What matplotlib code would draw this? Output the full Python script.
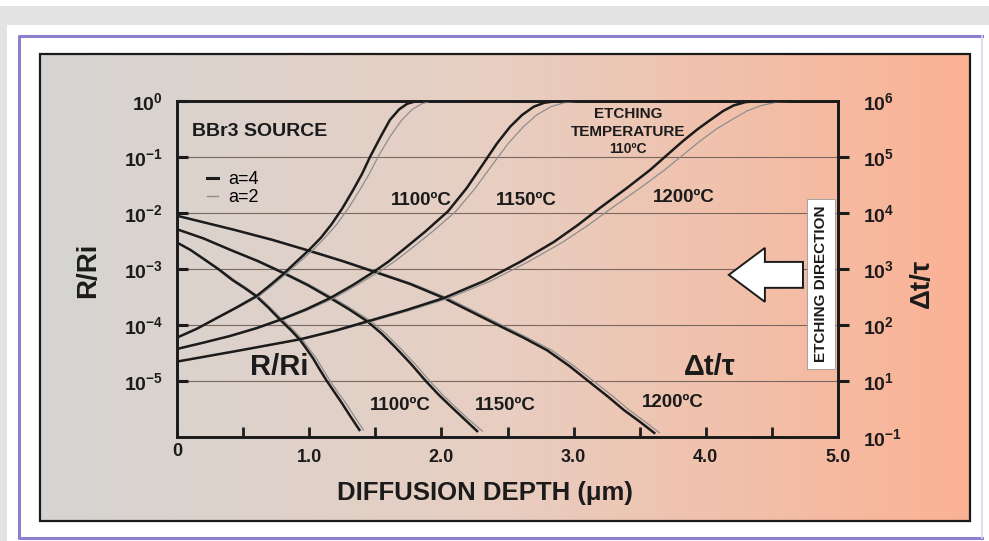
import matplotlib.pyplot as plt
import numpy as np
from matplotlib.colors import LinearSegmentedColormap
from matplotlib.patches import Rectangle, Polygon
from matplotlib.lines import Line2D

plt.rcParams['font.family'] = ['Liberation Sans', 'DejaVu Sans']
plt.rcParams['mathtext.default'] = 'regular'

# --- etching time ratio (right axis), a=4 black / a=2 gray ---
depth_dt_1100 = [0.0, 0.15, 0.30, 0.45, 0.60, 0.70, 0.81, 0.90, 1.00, 1.09, 1.17,
                 1.25, 1.33, 1.40, 1.46, 1.54, 1.61, 1.68, 1.74, 1.80, 1.86, 5.0]
depth_dt_1100_a2 = [0.0, 0.155, 0.31, 0.465, 0.62, 0.72, 0.83, 0.925, 1.03, 1.12, 1.21,
                    1.295, 1.38, 1.455, 1.52, 1.61, 1.70, 1.78, 1.85, 1.91, 1.97, 5.0]
dt_1100 = [59, 85, 132, 204, 324, 501, 832, 1320, 2190, 3630, 6310,
           1.2e4, 2.51e4, 5.0e4, 1.0e5, 2.29e5, 4.57e5, 7.08e5, 8.9e5, 9.8e5, 1.0e6, 1.0e6]

depth_dt_1150 = [0.0, 0.20, 0.40, 0.60, 0.78, 0.97, 1.16, 1.33, 1.49, 1.60, 1.71,
                 1.88, 2.05, 2.19, 2.32, 2.42, 2.52, 2.61, 2.70, 2.78, 2.88, 5.0]
depth_dt_1150_a2 = [0.0, 0.205, 0.41, 0.615, 0.80, 0.995, 1.19, 1.36, 1.53, 1.645, 1.76,
                    1.935, 2.11, 2.255, 2.395, 2.505, 2.62, 2.72, 2.83, 2.93, 3.06, 5.0]
dt_1150 = [37, 48, 63, 87, 123, 186, 302, 513, 891, 1350, 2190,
           4680, 1.07e4, 2.75e4, 7.76e4, 1.74e5, 3.47e5, 5.62e5, 7.94e5, 9.33e5, 1.0e6, 1.0e6]

depth_dt_1200 = [0.0, 0.45, 0.93, 1.20, 1.44, 1.73, 2.02, 2.32, 2.60, 2.85, 3.03, 3.20,
                 3.40, 3.58, 3.71, 3.83, 3.94, 4.04, 4.13, 4.21, 4.30, 4.40, 5.0]
depth_dt_1200_a2 = [0.0, 0.46, 0.95, 1.225, 1.47, 1.765, 2.06, 2.37, 2.66, 2.92, 3.11, 3.29,
                    3.50, 3.69, 3.83, 3.96, 4.08, 4.20, 4.31, 4.42, 4.54, 4.70, 5.0]
dt_1200 = [22, 34, 55, 79, 115, 182, 302, 603, 1350, 3020, 6030, 1.23e4,
           2.75e4, 5.89e4, 1.1e5, 1.95e5, 3.16e5, 4.68e5, 6.61e5, 8.32e5, 9.55e5, 1.0e6, 1.0e6]

# --- sheet resistance ratio R/Ri (left axis) ---
depth_r_1100 = [0.0, 0.10, 0.20, 0.31, 0.42, 0.51, 0.60, 0.69, 0.78, 0.86, 0.93,
                0.98, 1.03, 1.08, 1.13, 1.19, 1.25, 1.31, 1.38]
depth_r_1100_a2 = [0.0, 0.105, 0.21, 0.32, 0.435, 0.525, 0.615, 0.705, 0.80, 0.88, 0.95,
                   1.00, 1.055, 1.105, 1.155, 1.215, 1.28, 1.34, 1.41]
r_1100 = [2.95e-3, 2.19e-3, 1.51e-3, 1.0e-3, 6.3e-4, 4.57e-4, 3.24e-4, 2.04e-4, 1.23e-4,
          8.1e-5, 5.4e-5, 3.7e-5, 2.5e-5, 1.58e-5, 1.02e-5, 6.3e-6, 3.9e-6, 2.34e-6, 1.32e-6]

depth_r_1150 = [0.0, 0.20, 0.40, 0.61, 0.81, 0.99, 1.16, 1.30, 1.44, 1.55, 1.65,
                1.77, 1.88, 1.98, 2.07, 2.17, 2.27]
depth_r_1150_a2 = [0.0, 0.205, 0.41, 0.625, 0.83, 1.01, 1.185, 1.325, 1.47, 1.58, 1.68,
                   1.80, 1.91, 2.01, 2.10, 2.20, 2.31]
r_1150 = [5.1e-3, 3.5e-3, 2.2e-3, 1.38e-3, 8.3e-4, 5.1e-4, 3.0e-4, 1.9e-4, 1.15e-4,
          6.9e-5, 4.0e-5, 2.0e-5, 1.0e-5, 5.6e-6, 3.5e-6, 2.1e-6, 1.26e-6]

depth_r_1200 = [0.0, 0.43, 0.72, 1.00, 1.25, 1.49, 1.76, 2.02, 2.30, 2.45, 2.62,
                2.80, 2.97, 3.13, 3.26, 3.38, 3.50, 3.61]
depth_r_1200_a2 = [0.0, 0.44, 0.735, 1.02, 1.27, 1.515, 1.785, 2.05, 2.33, 2.48, 2.65,
                   2.835, 3.005, 3.17, 3.30, 3.42, 3.54, 3.65]
r_1200 = [8.9e-3, 5.0e-3, 3.3e-3, 2.1e-3, 1.38e-3, 8.9e-4, 5.4e-4, 3.0e-4, 1.4e-4,
          9.3e-5, 5.9e-5, 3.5e-5, 1.82e-5, 9.1e-6, 5.2e-6, 3.0e-6, 1.86e-6, 1.17e-6]

x_ticks = [0.0, 0.5, 1.0, 1.5, 2.0, 2.5, 3.0, 3.5, 4.0, 4.5, 5.0]
x_tick_labels = ['', '', '1.0', '', '2.0', '', '3.0', '', '4.0', '', '5.0']
left_ticks = [1e-5, 1e-4, 1e-3, 1e-2, 1e-1, 1e0]
left_tick_labels = ['$10^{-5}$', '$10^{-4}$', '$10^{-3}$', '$10^{-2}$', '$10^{-1}$', '$10^{0}$']
right_ticks = [1e0, 1e1, 1e2, 1e3, 1e4, 1e5, 1e6]
right_tick_labels = ['$10^{-1}$', '$10^{1}$', '$10^{2}$', '$10^{3}$', '$10^{4}$', '$10^{5}$', '$10^{6}$']

INK = '#1b1b1b'
GRAY = '#8e8e8e'

fig = plt.figure(figsize=(9.89, 5.41), dpi=100)
fig.patch.set_facecolor('white')

# page background, frame and gradient panel (pixel coordinates)
bg = fig.add_axes([0, 0, 1, 1], zorder=0)
bg.axis('off')
cmap = LinearSegmentedColormap.from_list('panel', ['#d5d5d3', '#e8cec1', '#fbb294'])
bg.imshow(np.linspace(0, 1, 256)[None, :], cmap=cmap, extent=(40, 970, 521, 54),
          aspect='auto', zorder=1)
bg.add_patch(Rectangle((0, 6), 989, 19, color='#e3e3e3', lw=0))
bg.add_patch(Rectangle((0, 6), 7, 535, color='#e3e3e3', lw=0))
bg.plot([982, 19, 19, 982], [36, 36, 538, 538], color='#8b80cf', lw=2.2)
bg.plot([982, 982], [36, 538], color='#d9d6ef', lw=1.2)
bg.add_patch(Rectangle((40, 54), 930, 467, fill=False, ec=INK, lw=1.6, zorder=2))
bg.set_xlim(0, 989)
bg.set_ylim(541, 0)

bg.text(88, 270, 'R/Ri', rotation=90, ha='center', va='center',
        fontsize=20, fontweight='bold', color=INK)
bg.text(922, 283, 'Δt/τ', rotation=90, ha='center', va='center',
        fontsize=20, fontweight='bold', color=INK)
bg.text(485, 493, 'DIFFUSION DEPTH (μm)', ha='center', va='center',
        fontsize=18.5, fontweight='bold', color=INK)

# main plot
ax = fig.add_axes([177 / 989, (541 - 436.7) / 541, 661 / 989, 335.7 / 541], zorder=2)
ax.set_facecolor('none')
ax.set_yscale('log')
ax.set_xlim(0, 5)
ax.set_ylim(1e-6, 1e0)
ax.yaxis.grid(True, color='#7a675f', lw=0.8)
ax.set_axisbelow(True)

ax.set_xticks(x_ticks)
ax.set_xticklabels(x_tick_labels, fontsize=13, fontweight='bold', color=INK)
ax.set_yticks(left_ticks)
ax.set_yticklabels(left_tick_labels, fontsize=14, fontweight='bold', color=INK)
ax.minorticks_off()
ax.tick_params(axis='x', direction='in', length=7, width=2, pad=9, color=INK)
ax.tick_params(axis='y', direction='in', length=8, width=2.2, pad=10, color=INK)
ax.yaxis.get_major_ticks()[-1].tick1line.set_visible(False)
for s in ax.spines.values():
    s.set_linewidth(1.9)
    s.set_color(INK)
ax.text(0, -0.045, '0', transform=ax.get_xaxis_transform(), ha='center', va='center',
        fontsize=13, fontweight='bold', color=INK)

for xs, xs2, ys in [(depth_r_1100, depth_r_1100_a2, r_1100),
                    (depth_r_1150, depth_r_1150_a2, r_1150),
                    (depth_r_1200, depth_r_1200_a2, r_1200)]:
    ax.plot(xs2, ys, color=GRAY, lw=0.9, zorder=3)
    ax.plot(xs, ys, color=INK, lw=1.8, zorder=4, solid_joinstyle='round')

ax2 = ax.twinx()
ax2.set_yscale('log')
ax2.set_ylim(1e0, 1e6)
ax2.set_yticks(right_ticks)
ax2.set_yticklabels(right_tick_labels, fontsize=14, fontweight='bold', color=INK)
ax2.minorticks_off()
ax2.tick_params(axis='y', direction='out', length=8, width=2.2, pad=10, color=INK)
ax2.yaxis.get_major_ticks()[0].tick2line.set_visible(False)
ax2.yaxis.get_major_ticks()[-1].tick2line.set_visible(False)
for s in ax2.spines.values():
    s.set_linewidth(1.9)
    s.set_color(INK)

for xs, xs2, ys in [(depth_dt_1100, depth_dt_1100_a2, dt_1100),
                    (depth_dt_1150, depth_dt_1150_a2, dt_1150),
                    (depth_dt_1200, depth_dt_1200_a2, dt_1200)]:
    ax2.plot(xs2, ys, color=GRAY, lw=0.9, zorder=3)
    ax2.plot(xs, ys, color=INK, lw=1.8, zorder=4, solid_joinstyle='round')

# annotations (left-axis data coordinates)
tr = ax.transData
lab = dict(fontsize=13.5, fontweight='bold', color=INK, ha='center', va='center', transform=tr)
ax2.text(0.11, 0.29, 'BBr3 SOURCE', fontsize=14, fontweight='bold', color=INK,
         ha='left', va='center', transform=tr)
ax2.text(1.85, 1.7e-2, '1100ºC', **lab)
ax2.text(2.64, 1.7e-2, '1150ºC', **lab)
ax2.text(3.83, 1.85e-2, '1200ºC', **lab)
ax2.text(1.69, 3.6e-6, '1100ºC', **lab)
ax2.text(2.48, 3.6e-6, '1150ºC', **lab)
ax2.text(3.75, 4.1e-6, '1200ºC', **lab)
ax2.text(0.77, 1.78e-5, 'R/Ri', fontsize=21, fontweight='bold', color=INK,
         ha='center', va='center', transform=tr)
ax2.text(4.03, 1.78e-5, 'Δt/τ', fontsize=21, fontweight='bold', color=INK,
         ha='center', va='center', transform=tr)
ax2.text(3.41, 0.59, 'ETCHING', fontsize=11, fontweight='bold', color=INK,
         ha='center', va='center', transform=tr)
ax2.text(3.41, 0.28, 'TEMPERATURE', fontsize=11, fontweight='bold', color=INK,
         ha='center', va='center', transform=tr)
ax2.text(3.41, 0.139, '110ºC', fontsize=10, fontweight='bold', color=INK,
         ha='center', va='center', transform=tr)

arrow = Polygon([(4.174, 7.8e-4), (4.447, 2.37e-3), (4.447, 1.33e-3), (4.735, 1.33e-3),
                 (4.735, 4.58e-4), (4.447, 4.58e-4), (4.447, 2.57e-4)], closed=True,
                fc='white', ec=INK, lw=1.4, transform=tr, zorder=6)
ax2.add_patch(arrow)
ax2.text(4.87, 5.4e-4, 'ETCHING DIRECTION', rotation=90, fontsize=11, fontweight='bold',
         color=INK, ha='center', va='center', transform=tr, zorder=7,
         bbox=dict(boxstyle='square,pad=0.45', fc='white', ec='#9a9a9a', lw=0.6))

ax2.legend(handles=[Line2D([], [], color=INK, lw=2.2), Line2D([], [], color=GRAY, lw=1.0)],
           labels=['a=4', 'a=2'], loc='upper left', bbox_to_anchor=(0.045, 0.79),
           frameon=False, fontsize=13, handlelength=0.6, handletextpad=0.6,
           labelspacing=0.05, borderpad=0, borderaxespad=0)

fig.savefig('out.png', dpi=100)
